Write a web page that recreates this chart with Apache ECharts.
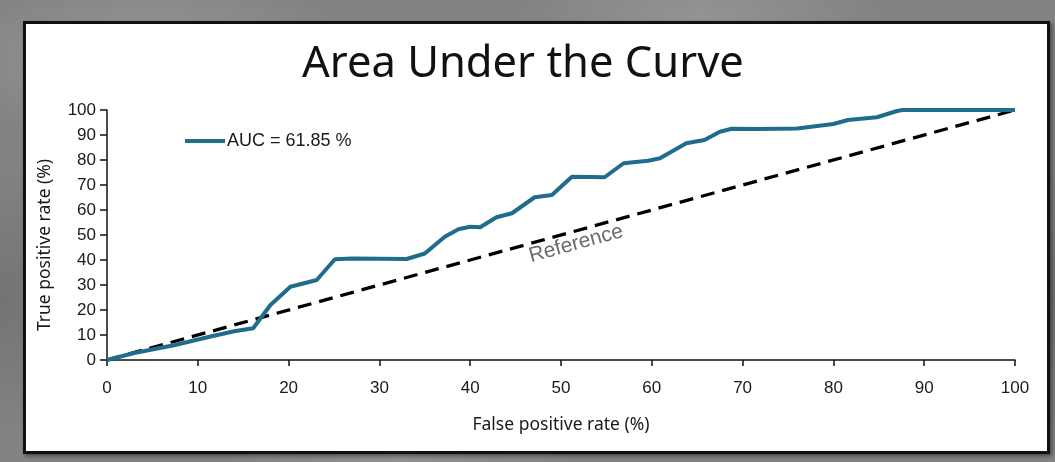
<!DOCTYPE html>
<html>
<head>
<meta charset="utf-8">
<script src="https://cdn.jsdelivr.net/npm/echarts@6/dist/echarts.min.js"></script>
<style>
  html, body { margin: 0; padding: 0; width: 1055px; height: 462px; overflow: hidden; }
  body {
    background:
      radial-gradient(ellipse 300px 120px at 150px 60px, rgba(170,170,170,0.55), rgba(170,170,170,0) 70%),
      radial-gradient(ellipse 260px 100px at 700px 20px, rgba(165,165,165,0.5), rgba(165,165,165,0) 70%),
      radial-gradient(ellipse 240px 90px at 400px 455px, rgba(160,160,160,0.5), rgba(160,160,160,0) 70%),
      radial-gradient(ellipse 200px 200px at 1050px 300px, rgba(95,95,95,0.5), rgba(95,95,95,0) 70%),
      radial-gradient(ellipse 200px 200px at 0px 300px, rgba(100,100,100,0.5), rgba(100,100,100,0) 70%),
      #838383;
  }
  #box {
    position: absolute; left: 23px; top: 21px; width: 1021px; height: 427px;
    background: #ffffff; border: 3px solid #111;
    box-shadow: 2px 2px 4px rgba(0,0,0,0.45);
  }
  #chart { position: absolute; left: 0; top: 0; width: 1055px; height: 462px; }
</style>
</head>
<body>
<div id="box"></div>
<div id="chart"></div>
<script>
// ---- data ----
const chartTitle = "Area Under the Curve";
const xAxisTitle = "False positive rate (%)";
const yAxisTitle = "True positive rate (%)";
const seriesName = "AUC = 61.85 %";
const refName = "Reference";
const fpr = [0, 3, 7.5, 11.3, 14, 16.1, 18.0, 20.2, 23.1, 25.1, 27, 33.0, 35.0, 37.2, 38.7, 40.0, 41.1, 42.9, 44.6, 47.1, 49.0, 51.2, 54.8, 56.9, 59.6, 60.9, 63.8, 65.8, 67.5, 68.8, 71.9, 76.0, 80.0, 81.6, 84.8, 87.0, 87.6, 100];
const tpr = [0, 2.8, 6.0, 9.3, 11.5, 12.7, 22.0, 29.3, 32.0, 40.3, 40.6, 40.4, 42.6, 49.3, 52.3, 53.3, 53.1, 57.1, 58.7, 65.1, 66.0, 73.3, 73.1, 78.7, 79.7, 80.7, 86.7, 88.0, 91.3, 92.5, 92.4, 92.6, 94.4, 96.0, 97.1, 99.6, 100, 100];
const refX = [0, 100];
const refY = [0, 100];
const refLabelStart = 2.6; // where the "Reference" caption span starts along the diagonal
const xTicks = [0, 10, 20, 30, 40, 50, 60, 70, 80, 90, 100];
const yTicks = [0, 10, 20, 30, 40, 50, 60, 70, 80, 90, 100];

const curve = fpr.map((x, i) => [x, tpr[i]]);
const refLine = refX.map((x, i) => [x, refY[i]]);

const chart = echarts.init(document.getElementById('chart'), null, { renderer: 'canvas' });
const axisFont = { fontFamily: 'Liberation Sans', fontSize: 17, color: '#1a1a1a' };
chart.setOption({
  backgroundColor: 'transparent',
  animation: false,
  title: {
    text: chartTitle,
    left: 297, top: 38,
    textStyle: { fontFamily: 'Noto Sans', fontSize: 43.5, fontWeight: 'normal', color: '#111' }
  },
  legend: {
    data: [seriesName],
    left: 180, top: 127,
    itemWidth: 40, itemHeight: 4, itemGap: 4,
    icon: 'rect',
    textStyle: { fontFamily: 'Liberation Sans', fontSize: 18, color: '#1a1a1a', padding: [0, 0, 0, -3] }
  },
  grid: { left: 107, right: 40, top: 110, bottom: 102 },
  xAxis: {
    type: 'value', min: xTicks[0], max: xTicks[xTicks.length - 1], interval: 10,
    name: xAxisTitle, nameLocation: 'middle', nameGap: 56,
    nameTextStyle: { fontFamily: 'Noto Sans', fontSize: 17.5, color: '#1a1a1a' },
    axisLine: { show: true, lineStyle: { color: '#111', width: 1.5 } },
    axisTick: { show: true, length: 6, lineStyle: { color: '#111', width: 1.5 } },
    axisLabel: Object.assign({ margin: 20 }, axisFont),
    splitLine: { show: false }
  },
  yAxis: {
    type: 'value', min: yTicks[0], max: yTicks[yTicks.length - 1], interval: 10,
    name: yAxisTitle, nameLocation: 'middle', nameGap: 53,
    nameTextStyle: { fontFamily: 'Noto Sans', fontSize: 17.5, color: '#1a1a1a', padding: [0, 20, 0, 0] },
    axisLine: { show: true, lineStyle: { color: '#111', width: 1.5 } },
    axisTick: { show: true, length: 7, lineStyle: { color: '#111', width: 1.5 } },
    axisLabel: Object.assign({ margin: 11 }, axisFont),
    splitLine: { show: false }
  },
  series: [
    {
      name: refName,
      type: 'line',
      data: refLine,
      symbol: 'none',
      lineStyle: { color: '#000', width: 3.3, type: [14, 8] },
      z: 2,
      markLine: {
        silent: true,
        symbol: ['none', 'none'],
        animation: false,
        lineStyle: { color: 'rgba(255,255,255,0)', width: 0.01, type: 'solid' },
        label: {
          show: true, position: 'insideMiddleBottom', formatter: refName,
          fontFamily: 'Liberation Sans', fontSize: 21, color: '#6b6b6b', distance: 2
        },
        emphasis: { disabled: true },
        data: [[{ coord: [refX[0] + refLabelStart, refY[0] + refLabelStart] }, { coord: [refX[1], refY[1]] }]]
      }
    },
    {
      name: seriesName,
      type: 'line',
      data: curve,
      symbol: 'none',
      color: '#1f6c8c',
      lineStyle: { color: '#1f6c8c', width: 4 },
      z: 3
    }
  ]
});
</script>
</body>
</html>
